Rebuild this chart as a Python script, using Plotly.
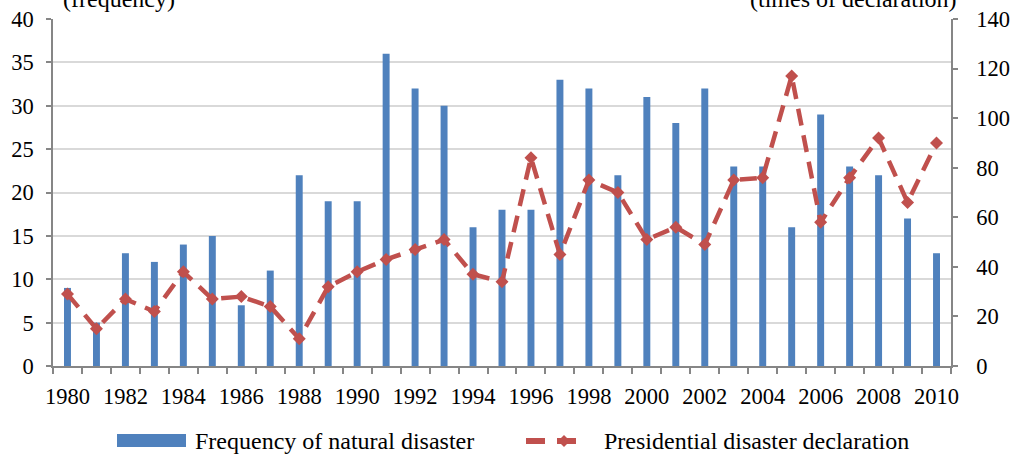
import plotly.graph_objects as go

# Annual series, 1980-2010
years = list(range(1980, 2011))
disaster_frequency = [9, 5, 13, 12, 14, 15, 7, 11, 22, 19,
                      19, 36, 32, 30, 16, 18, 18, 33, 32, 22,
                      31, 28, 32, 23, 23, 16, 29, 23, 22, 17, 13]
declarations = [29, 15, 27, 22, 38, 27, 28, 24, 11, 32,
                38, 43, 47, 51, 37, 34, 84, 45, 75, 70,
                51, 56, 49, 75, 76, 117, 58, 76, 92, 66, 90]
year_labels = [y for y in years if y % 2 == 0]

BLUE = "#4F81BD"
RED = "#C0504D"
AXIS = "#868686"
GRID = "#D9D9D9"
FONT = "Liberation Serif, Times New Roman, serif"

W, H = 1013, 457
L, R, T, B = 53, 62, 19, 91
PW, PH = W - L - R, H - T - B


def px_x(px):
    return (px - L) / PW


def px_y(py):
    return (H - B - py) / PH


fig = go.Figure()
fig.add_trace(go.Bar(
    x=years, y=disaster_frequency, name="Frequency of natural disaster",
    marker=dict(color=BLUE, line=dict(width=0)), yaxis="y",
))
fig.add_trace(go.Scatter(
    x=years, y=declarations, name="Presidential disaster declaration",
    mode="lines+markers", yaxis="y2",
    line=dict(color=RED, width=4.5, dash="17px,10px"),
    marker=dict(symbol="diamond", size=10, color=RED),
))

tickfont = dict(family=FONT, size=22.5, color="black")

fig.update_layout(
    width=W, height=H,
    margin=dict(l=L, r=R, t=T, b=B, pad=0, autoexpand=False),
    paper_bgcolor="white", plot_bgcolor="white",
    showlegend=False,
    bargap=0.76,
    xaxis=dict(
        range=[1979.5, 2010.5], tickmode="array", tickvals=year_labels,
        ticktext=[str(y) for y in year_labels], ticks="",
        showline=True, linecolor=AXIS, linewidth=1.5, showgrid=False,
        zeroline=False, tickfont=tickfont, ticklabelstandoff=9,
        automargin=False,
        minor=dict(tick0=1979.5, dtick=1, ticks="outside", ticklen=6,
                   tickcolor=AXIS, tickwidth=1.5, showgrid=False),
    ),
    yaxis=dict(
        range=[0, 40], dtick=5, ticks="outside", ticklen=5,
        tickcolor=AXIS, tickwidth=1.5, showline=True, linecolor=AXIS,
        linewidth=1.5, showgrid=True, gridcolor=GRID, gridwidth=1.5,
        zeroline=False, tickfont=tickfont, ticklabelstandoff=8,
        automargin=False,
    ),
    yaxis2=dict(
        range=[0, 140], dtick=20, overlaying="y", side="right",
        ticks="outside", ticklen=5, tickcolor=AXIS, tickwidth=1.5,
        showline=True, linecolor=AXIS, linewidth=1.5, showgrid=False,
        zeroline=False, tickfont=tickfont, ticklabelstandoff=14,
        automargin=False,
    ),
)

# Axis unit captions above the plot
cap_font = dict(family=FONT, size=24, color="black")
fig.add_annotation(text="(frequency)", xref="paper", yref="paper",
                   x=px_x(61), y=px_y(-1), xanchor="left", yanchor="middle",
                   showarrow=False, font=cap_font)
fig.add_annotation(text="(times of declaration)", xref="paper", yref="paper",
                   x=px_x(959), y=px_y(-1), xanchor="right", yanchor="middle",
                   showarrow=False, font=cap_font)

# Legend keys drawn below the axis
ly = px_y(441)
fig.add_shape(type="rect", xref="paper", yref="paper",
              x0=px_x(117), x1=px_x(186), y0=px_y(447), y1=px_y(434),
              fillcolor=BLUE, line=dict(width=0))
fig.add_annotation(text="Frequency of natural disaster", xref="paper",
                   yref="paper", x=px_x(193), y=ly, xanchor="left",
                   yanchor="middle", showarrow=False, font=cap_font)
fig.add_shape(type="line", xref="paper", yref="paper",
              x0=px_x(526), x1=px_x(581), y0=ly, y1=ly,
              line=dict(color=RED, width=6, dash="19px,12px"))
fig.add_shape(type="path", xref="paper", yref="paper",
              path=(f"M {px_x(558)} {ly} L {px_x(564)} {px_y(435)} "
                    f"L {px_x(570)} {ly} L {px_x(564)} {px_y(447)} Z"),
              fillcolor=RED, line=dict(width=0))
fig.add_annotation(text="Presidential disaster declaration", xref="paper",
                   yref="paper", x=px_x(602), y=ly, xanchor="left",
                   yanchor="middle", showarrow=False, font=cap_font)

fig.write_html("out.html")
